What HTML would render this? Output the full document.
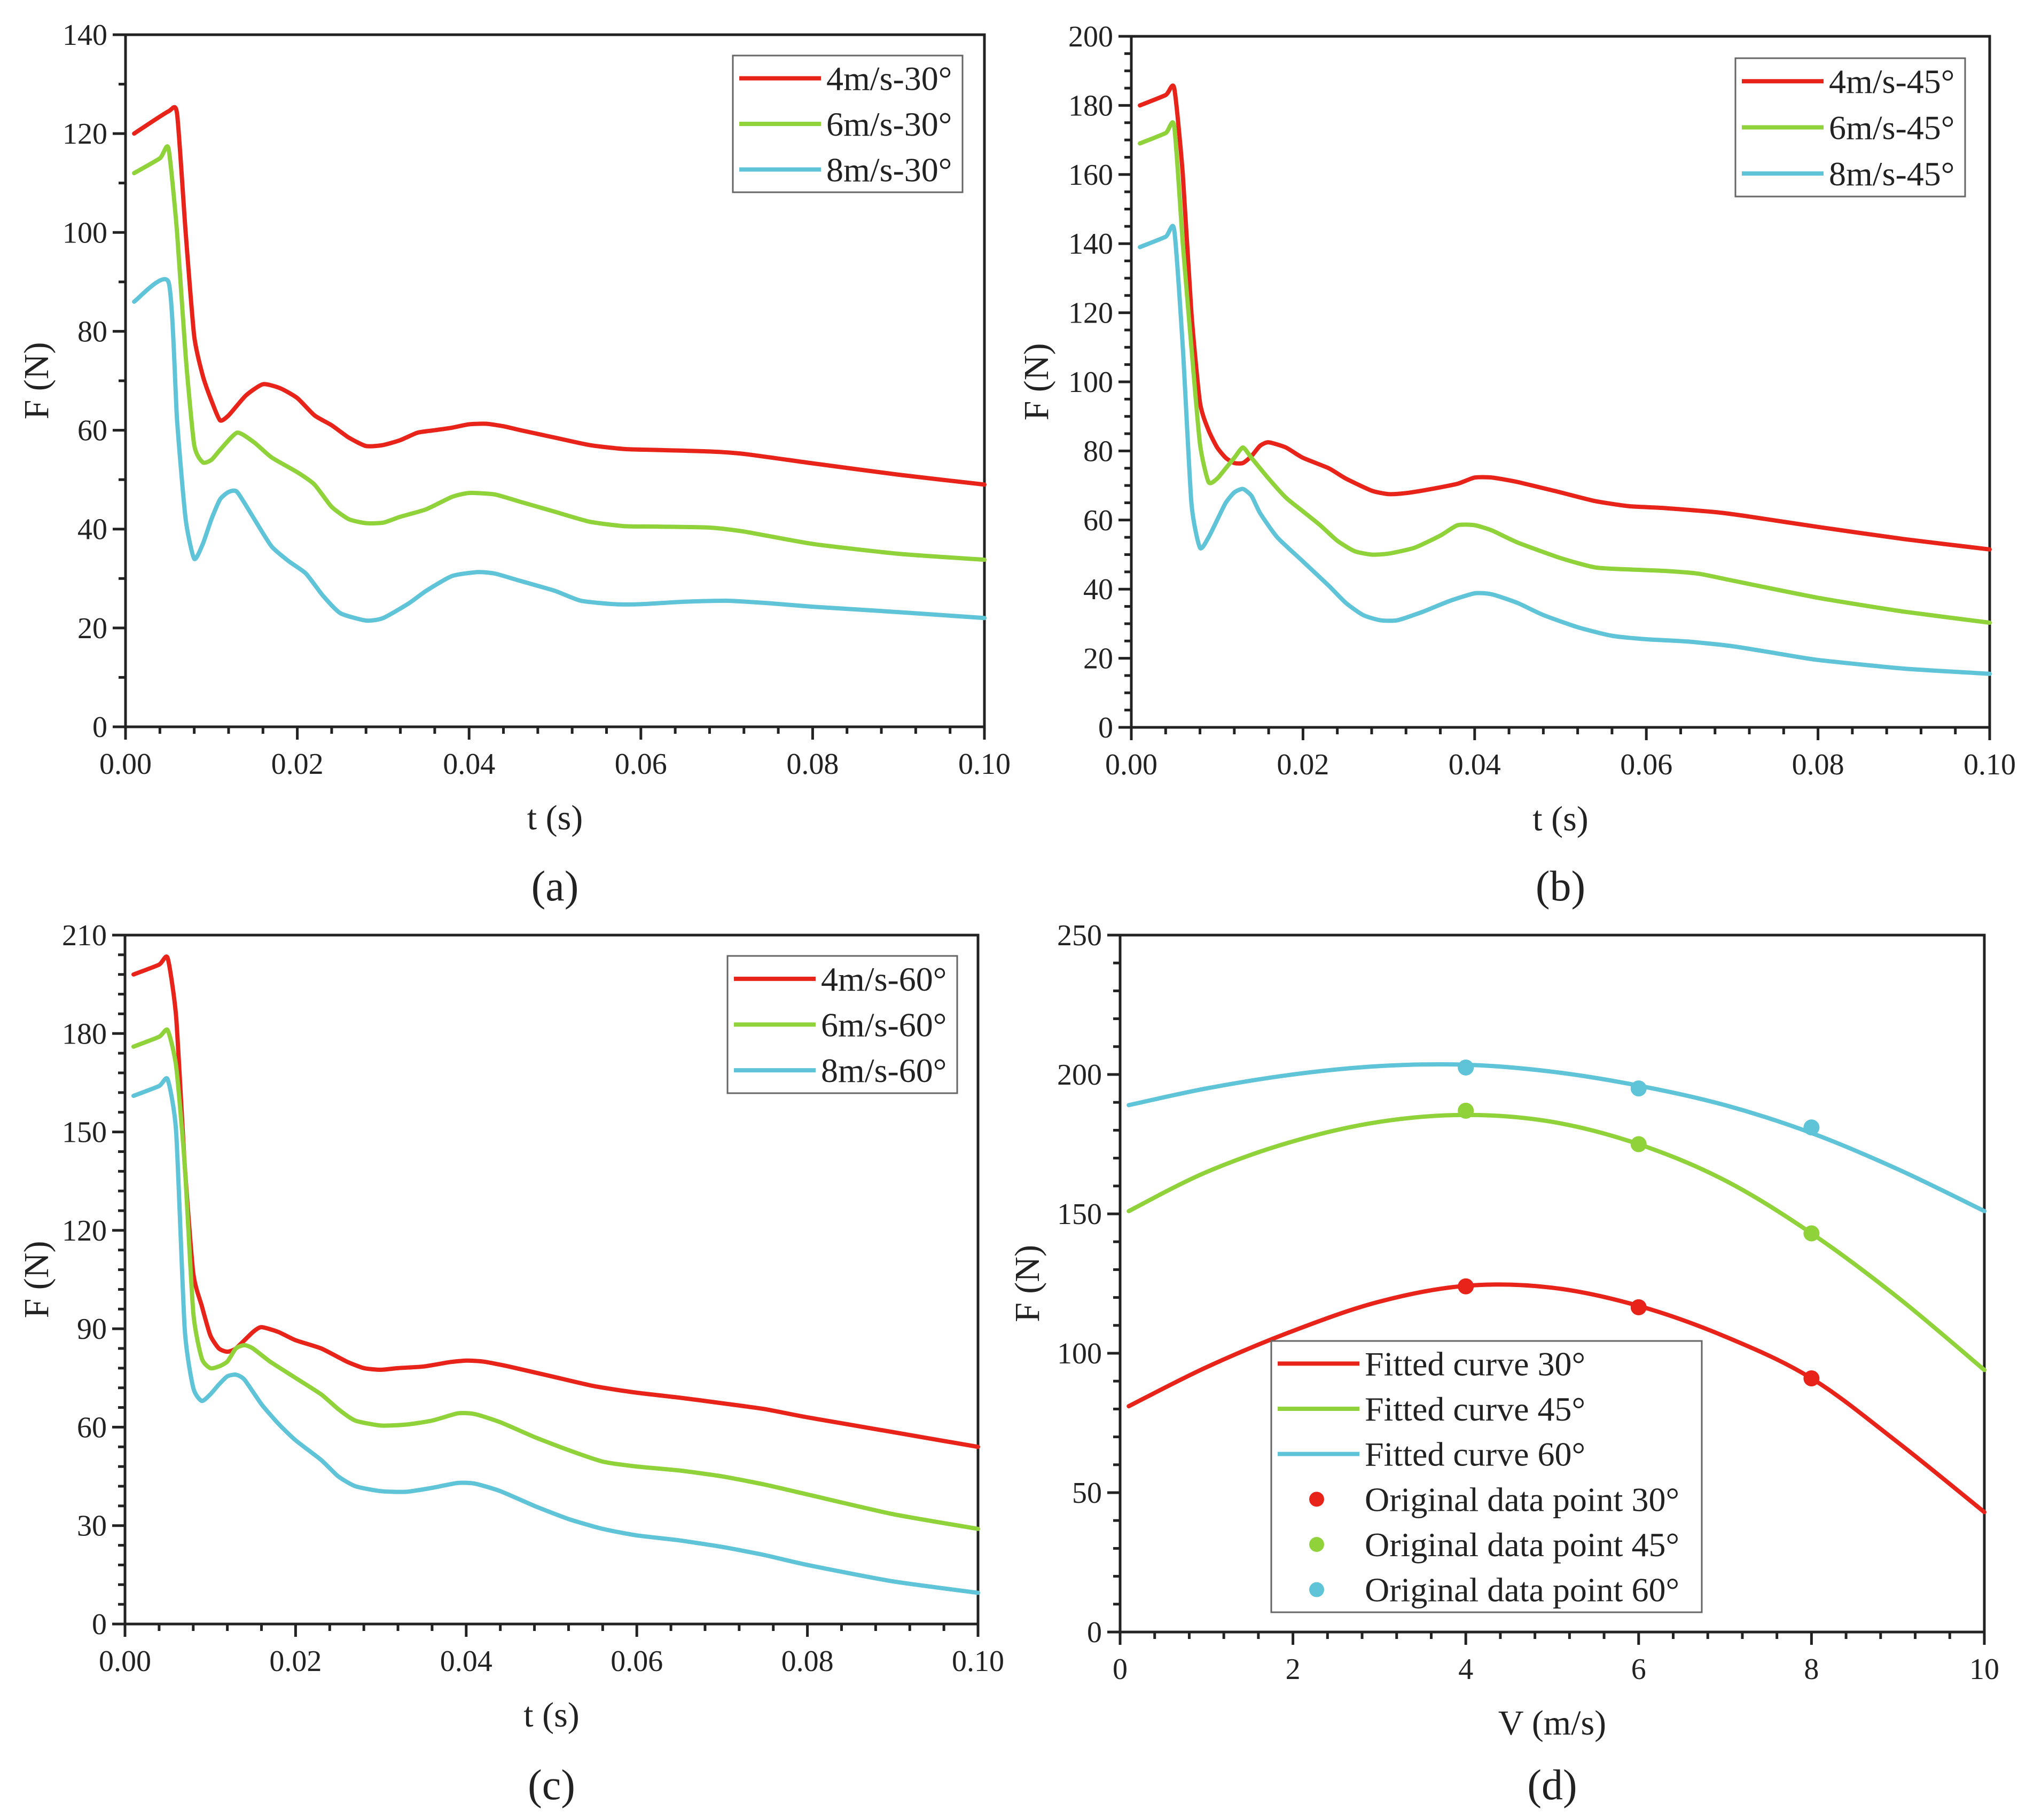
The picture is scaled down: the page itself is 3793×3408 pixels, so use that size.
<!DOCTYPE html>
<html><head><meta charset="utf-8"><style>
html,body{margin:0;padding:0;background:#fff}
svg{display:block}
text{font-family:"Liberation Serif",serif;fill:#222}
</style></head><body>
<svg id="fig" width="3793" height="3408" viewBox="0 0 3793 3408" xmlns="http://www.w3.org/2000/svg"></svg>
<script>
// ---- Panel (a) data ----
const tA1=[0.001,0.005,0.006,0.007,0.008,0.009,0.010,0.011,0.012,0.014,0.016,0.018,0.020,0.022,0.024,0.026,0.028,0.030,0.032,0.034,0.036,0.038,0.040,0.042,0.044,0.046,0.050,0.054,0.058,0.062,0.068,0.072,0.080,0.090,0.1];
const fA1=[120,124.5,124,100,79,71,66,62,63,67,69.3,68.5,66.5,63,61,58.5,56.8,57,58,59.5,60,60.5,61.2,61.3,60.8,60,58.5,57,56.2,56,55.7,55.2,53.3,51,49];
const tA2=[0.001,0.004,0.005,0.006,0.007,0.008,0.009,0.010,0.011,0.013,0.015,0.017,0.020,0.022,0.024,0.026,0.028,0.030,0.032,0.035,0.038,0.040,0.043,0.046,0.050,0.054,0.058,0.062,0.068,0.072,0.080,0.090,0.1];
const fA2=[112,115,117,100,75,57,53.5,54,56,59.5,57.5,54.5,51.5,49,44.5,42,41.2,41.3,42.5,44,46.5,47.3,47,45.5,43.5,41.5,40.6,40.5,40.3,39.5,37,35,33.8];
const tA3=[0.001,0.005,0.006,0.007,0.008,0.009,0.010,0.011,0.012,0.013,0.015,0.017,0.019,0.021,0.023,0.025,0.028,0.030,0.033,0.035,0.038,0.041,0.043,0.046,0.050,0.053,0.057,0.060,0.065,0.070,0.075,0.080,0.090,0.1];
const fA3=[86,90,62,42,34,37,42,46,47.5,47.5,42,36.5,33.5,31,26.5,23,21.5,22,25,27.5,30.5,31.3,31,29.5,27.5,25.5,24.8,24.8,25.3,25.5,25,24.3,23.2,22];
// ---- Panel (b) data ----
const tB1=[0.001,0.004,0.005,0.006,0.007,0.008,0.009,0.010,0.011,0.012,0.013,0.014,0.015,0.016,0.018,0.020,0.023,0.025,0.028,0.030,0.032,0.035,0.038,0.040,0.042,0.045,0.050,0.054,0.058,0.062,0.068,0.072,0.080,0.090,0.1];
const fB1=[180,183,185,160,120,94,86,81,78,76.5,76.5,78.5,81.5,82.5,81,78,75,72,68.5,67.5,67.8,69,70.5,72.3,72.3,71,68,65.5,64,63.5,62.3,61,58,54.5,51.5];
const tB2=[0.001,0.004,0.005,0.006,0.007,0.008,0.009,0.010,0.011,0.012,0.013,0.014,0.016,0.018,0.020,0.022,0.024,0.026,0.028,0.030,0.033,0.036,0.038,0.040,0.042,0.045,0.050,0.054,0.058,0.062,0.066,0.070,0.080,0.090,0.1];
const fB2=[169,172,174,140,110,82,71,72,75,78,81,78,72,66.5,62.5,58.5,54,51,50,50.3,52,55.5,58.5,58.5,57,53.5,49,46.3,45.7,45.3,44.5,42.5,37.5,33.5,30.3];
const tB3=[0.001,0.004,0.005,0.006,0.007,0.008,0.009,0.010,0.011,0.012,0.013,0.014,0.015,0.017,0.020,0.023,0.025,0.027,0.029,0.031,0.034,0.037,0.040,0.042,0.045,0.048,0.052,0.056,0.060,0.065,0.070,0.075,0.080,0.090,0.1];
const fB3=[139,142,144,110,65,52,55,60,65,68,69,67,62,55,48,41,36,32.5,31,31,33.5,36.5,38.8,38.5,36,32.5,29,26.5,25.5,24.8,23.5,21.5,19.5,17,15.5];
// ---- Panel (c) data ----
const tC1=[0.001,0.004,0.005,0.006,0.007,0.008,0.009,0.010,0.011,0.012,0.013,0.015,0.016,0.018,0.020,0.023,0.026,0.028,0.030,0.032,0.035,0.038,0.040,0.042,0.045,0.050,0.055,0.060,0.065,0.070,0.075,0.080,0.090,0.1];
const fC1=[198,201,203,185,140,107,97,88,84,83,84,89,90.5,89,86.5,84,80,78,77.5,78,78.5,79.8,80.3,80,78.5,75.5,72.5,70.5,69,67.3,65.5,63,58.5,54];
const tC2=[0.001,0.004,0.005,0.006,0.007,0.008,0.009,0.010,0.011,0.012,0.013,0.014,0.015,0.017,0.020,0.023,0.025,0.027,0.030,0.033,0.036,0.039,0.041,0.044,0.048,0.052,0.056,0.060,0.065,0.070,0.075,0.080,0.090,0.1];
const fC2=[176,179,181,170,140,95,81,78,78.5,80,84,85,84,80,75,70,65.5,62,60.5,60.8,62,64.2,64,61.5,57,53,49.5,48,46.8,45,42.5,39.5,33.5,29];
const tC3=[0.001,0.004,0.005,0.006,0.007,0.008,0.009,0.010,0.011,0.012,0.013,0.014,0.016,0.018,0.020,0.023,0.025,0.027,0.030,0.033,0.036,0.039,0.041,0.044,0.048,0.052,0.056,0.060,0.065,0.070,0.075,0.080,0.090,0.1];
const fC3=[161,164,166,150,90,72,68,70,73,75.5,76,74.5,67,61,56,50,45,42,40.5,40.3,41.5,43,42.8,40.5,36,32,29,27,25.5,23.5,21,18,13,9.5];
// ---- Panel (d) data ----
const vD=[0.1,1,2,3,4,5,6,7,8,9,10];
const fitD30=[81,95,108,118.5,124.2,123.5,117,106,91,68,43];
const fitD45=[151,165,176,183,185.5,183,175,162,143,120,94];
const fitD60=[189,195,200,203,203.5,201,196,189,179,166,151];
const ptV=[4,6,8];
const pt30=[124,116.5,91];
const pt45=[187,175,143];
const pt60=[202.5,195,181];
// ---- tick labels ----
const tTicks=["0.00","0.02","0.04","0.06","0.08","0.10"];
const vTicks=["0","2","4","6","8","10"];

const RED="#e8231a", GRN="#8fd23a", CYN="#5fc4d8";
const NS="http://www.w3.org/2000/svg";
const svg=document.getElementById('fig');
function el(tag,attrs,parent){const e=document.createElementNS(NS,tag);for(const k in attrs)e.setAttribute(k,attrs[k]);(parent||svg).appendChild(e);return e;}

function panel(cfg){
  const g=el('g',{});
  
  
  const X=v=>cfg.x0+(v-cfg.xmin)/(cfg.xmax-cfg.xmin)*(cfg.x1-cfg.x0);
  const Y=v=>cfg.y0-(v-cfg.ymin)/(cfg.ymax-cfg.ymin)*(cfg.y0-cfg.y1);
  cfg.X=X;cfg.Y=Y;cfg.g=g;
  const fr=el('rect',{x:cfg.x0,y:cfg.y1,width:cfg.x1-cfg.x0,height:cfg.y0-cfg.y1,fill:'none',stroke:'#222','stroke-width':5},g);
  
  
  const nx=cfg.xLabels;
  for(let i=0;i<=cfg.xMinorN;i++){
    const v=cfg.xmin+i*(cfg.xmax-cfg.xmin)/cfg.xMinorN;
    const major=i%cfg.xMinorPer===0;
    el('line',{x1:X(v),x2:X(v),y1:cfg.y0,y2:cfg.y0+(major?24:13),stroke:'#222','stroke-width':5},g);
  }
  nx.forEach((lab,i)=>{
    const v=cfg.xmin+i*(cfg.xmax-cfg.xmin)/(nx.length-1);
    const t=el('text',{x:X(v),y:cfg.y0+88,'font-size':56,'text-anchor':'middle'},g);
    t.textContent=lab;
    
    
  });
  for(let i=0;i<=cfg.yMinorN;i++){
    const v=cfg.ymin+i*(cfg.ymax-cfg.ymin)/cfg.yMinorN;
    const major=i%cfg.yMinorPer===0;
    el('line',{x1:cfg.x0,x2:cfg.x0-(major?24:13),y1:Y(v),y2:Y(v),stroke:'#222','stroke-width':5},g);
  }
  cfg.yTicks.forEach(v=>{
    const t=el('text',{x:cfg.x0-34,y:Y(v)+19,'font-size':56,'text-anchor':'end'},g);
    t.textContent=String(v);
    
    
  });
  const xt=el('text',{x:(cfg.x0+cfg.x1)/2,y:cfg.xTitleY,'font-size':66,'text-anchor':'middle'},g);
  xt.textContent=cfg.xTitle;
  
  
  const yt=el('text',{x:0,y:0,'font-size':66,'text-anchor':'middle',transform:`translate(${cfg.yTitleX},${(cfg.y0+cfg.y1)/2}) rotate(-90)`},g);
  yt.textContent='F (N)';
  
  
  const pl=el('text',{x:(cfg.x0+cfg.x1)/2,y:cfg.labY,'font-size':80,'text-anchor':'middle'},g);
  pl.textContent=cfg.label;
  
  
  return cfg;
}
function line(cfg,xs,ys,color,name,k){
  const X=cfg.X,Y=cfg.Y;
  const P=xs.map((x,i)=>[X(x),Y(ys[i])]);
  let d='M'+P[0][0].toFixed(1)+','+P[0][1].toFixed(1);
  for(let i=0;i<P.length-1;i++){
    const p0=P[Math.max(0,i-1)],p1=P[i],p2=P[i+1],p3=P[Math.min(P.length-1,i+2)];
    const c1=[p1[0]+(p2[0]-p0[0])/k,p1[1]+(p2[1]-p0[1])/k];
    const c2=[p2[0]-(p3[0]-p1[0])/k,p2[1]-(p3[1]-p1[1])/k];
    d+=` C${c1[0].toFixed(1)},${c1[1].toFixed(1)} ${c2[0].toFixed(1)},${c2[1].toFixed(1)} ${p2[0].toFixed(1)},${p2[1].toFixed(1)}`;
  }
  const p=el('path',{d:d,fill:'none',stroke:color,'stroke-width':8,'stroke-linejoin':'round','stroke-linecap':'round'},cfg.g);
  
  
}
function legend(cfg,x,y,w,h,items,fs){
  const lg=el('g',{},cfg.g);
  
  
  el('rect',{x:x,y:y,width:w,height:h,fill:'#fff',stroke:'#666','stroke-width':3},lg);
  const step=h/items.length;
  items.forEach((it,i)=>{
    const cy=y+step*(i+0.5);
    const e=el('g',{},lg);
    
    
    if(it.dot) el('circle',{cx:x+85,cy:cy,r:14,fill:it.c},e);
    else el('line',{x1:x+12,x2:x+165,y1:cy,y2:cy,stroke:it.c,'stroke-width':8},e);
    const t=el('text',{x:x+175,y:cy+22,'font-size':fs},e);
    t.textContent=it.t;
  });
}

const A=panel({name:'panel-a',x0:235,x1:1843,y0:1361,y1:65,xmin:0,xmax:0.1,ymin:0,ymax:140,xMinorN:25,xMinorPer:5,yMinorN:14,yMinorPer:2,yTicks:[0,20,40,60,80,100,120,140],xLabels:tTicks,xTitle:'t (s)',xTitleY:1553,yTitleX:90,label:'(a)',labY:1686});
line(A,tA1,fA1,RED,'series-4ms-30',10);
line(A,tA2,fA2,GRN,'series-6ms-30',10);
line(A,tA3,fA3,CYN,'series-8ms-30',10);
legend(A,1372,104,430,256,[{t:'4m/s-30°',c:RED},{t:'6m/s-30°',c:GRN},{t:'8m/s-30°',c:CYN}],64);

const B=panel({name:'panel-b',x0:2118,x1:3725,y0:1362,y1:68,xmin:0,xmax:0.1,ymin:0,ymax:200,xMinorN:25,xMinorPer:5,yMinorN:40,yMinorPer:4,yTicks:[0,20,40,60,80,100,120,140,160,180,200],xLabels:tTicks,xTitle:'t (s)',xTitleY:1555,yTitleX:1962,label:'(b)',labY:1686});
line(B,tB1,fB1,RED,'series-4ms-45',10);
line(B,tB2,fB2,GRN,'series-6ms-45',10);
line(B,tB3,fB3,CYN,'series-8ms-45',10);
legend(B,3249,109,430,259,[{t:'4m/s-45°',c:RED},{t:'6m/s-45°',c:GRN},{t:'8m/s-45°',c:CYN}],64);

const C=panel({name:'panel-c',x0:234,x1:1831,y0:3041,y1:1751,xmin:0,xmax:0.1,ymin:0,ymax:210,xMinorN:25,xMinorPer:5,yMinorN:35,yMinorPer:5,yTicks:[0,30,60,90,120,150,180,210],xLabels:tTicks,xTitle:'t (s)',xTitleY:3233,yTitleX:90,label:'(c)',labY:3369});
line(C,tC1,fC1,RED,'series-4ms-60',10);
line(C,tC2,fC2,GRN,'series-6ms-60',10);
line(C,tC3,fC3,CYN,'series-8ms-60',10);
legend(C,1362,1790,430,257,[{t:'4m/s-60°',c:RED},{t:'6m/s-60°',c:GRN},{t:'8m/s-60°',c:CYN}],64);

const D=panel({name:'panel-d',x0:2097,x1:3715,y0:3056,y1:1751,xmin:0,xmax:10,ymin:0,ymax:250,xMinorN:25,xMinorPer:5,yMinorN:25,yMinorPer:5,yTicks:[0,50,100,150,200,250],xLabels:vTicks,xTitle:'V (m/s)',xTitleY:3248,yTitleX:1945,label:'(d)',labY:3369});
line(D,vD,fitD30,RED,'fitted-curve-30',6);
line(D,vD,fitD45,GRN,'fitted-curve-45',6);
line(D,vD,fitD60,CYN,'fitted-curve-60',6);
[[pt30,RED,'data-point-30'],[pt45,GRN,'data-point-45'],[pt60,CYN,'data-point-60']].forEach(([arr,c,n])=>{
  arr.forEach((v,i)=>{
    const ci=el('circle',{cx:D.X(ptV[i]),cy:D.Y(v),r:15,fill:c},D.g);
    
    
  });
});
legend(D,2380,2511,806,508,[{t:'Fitted curve 30°',c:RED},{t:'Fitted curve 45°',c:GRN},{t:'Fitted curve 60°',c:CYN},{t:'Original data point 30°',c:RED,dot:1},{t:'Original data point 45°',c:GRN,dot:1},{t:'Original data point 60°',c:CYN,dot:1}],64);
</script>
</body></html>
